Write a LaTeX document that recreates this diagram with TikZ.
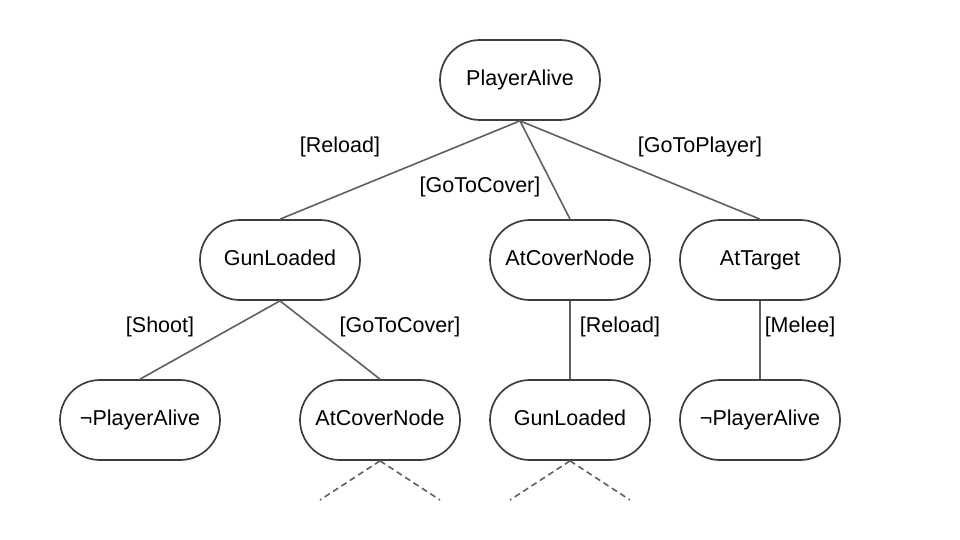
\documentclass[tikz,border=0pt]{standalone}
\usepackage{fontspec}
\setmainfont{Liberation Sans}
\definecolor{bordc}{RGB}{58,62,68}
\definecolor{linec}{RGB}{95,95,95}
\begin{document}
\begin{tikzpicture}[x=1pt,y=-1pt,
  state/.style={draw=bordc, line width=1.7pt, rounded corners=40pt, minimum width=160pt, minimum height=80pt, inner sep=0pt, text height=15pt, text depth=4pt, font=\fontsize{21.5}{25}\selectfont, fill=white},
  edge/.style={draw=linec, line width=1.6pt},
  dedge/.style={draw=linec, line width=1.6pt, dash pattern=on 6pt off 4pt},
  lbl/.style={font=\fontsize{21.5}{25}\selectfont, inner sep=0pt, text height=15pt, text depth=4pt}]
\useasboundingbox (0,0) rectangle (960,540);
\node[state] (pa) at (520,80) {PlayerAlive};
\node[state] (gl) at (280,260) {GunLoaded};
\node[state] (acn) at (570,260) {AtCoverNode};
\node[state] (at) at (760,260) {AtTarget};
\node[state] (npa1) at (140,420) {\char"00AC PlayerAlive};
\node[state] (acn2) at (380,420) {AtCoverNode};
\node[state] (gl2) at (570,420) {GunLoaded};
\node[state] (npa2) at (760,420) {\char"00AC PlayerAlive};
\coordinate (d1) at (320,500);
\coordinate (d2) at (440,500);
\coordinate (d3) at (510,500);
\coordinate (d4) at (630,500);
\draw[edge] (pa.south) -- (gl.north);
\draw[edge] (pa.south) -- (acn.north);
\draw[edge] (pa.south) -- (at.north);
\draw[edge] (gl.south) -- (npa1.north);
\draw[edge] (gl.south) -- (acn2.north);
\draw[edge] (acn.south) -- (gl2.north);
\draw[edge] (at.south) -- (npa2.north);
\draw[dedge] (acn2.south) -- (d1);
\draw[dedge] (acn2.south) -- (d2);
\draw[dedge] (gl2.south) -- (d3);
\draw[dedge] (gl2.south) -- (d4);
\node[lbl] (l1) at (340,147) {[Reload]};
\node[lbl] (l2) at (480,187) {[GoToCover]};
\node[lbl] (l3) at (700,147) {[GoToPlayer]};
\node[lbl] (l4) at (160,327) {[Shoot]};
\node[lbl] (l5) at (400,327) {[GoToCover]};
\node[lbl] (l6) at (620,327) {[Reload]};
\node[lbl] (l7) at (800,327) {[Melee]};
\end{tikzpicture}
\end{document}
